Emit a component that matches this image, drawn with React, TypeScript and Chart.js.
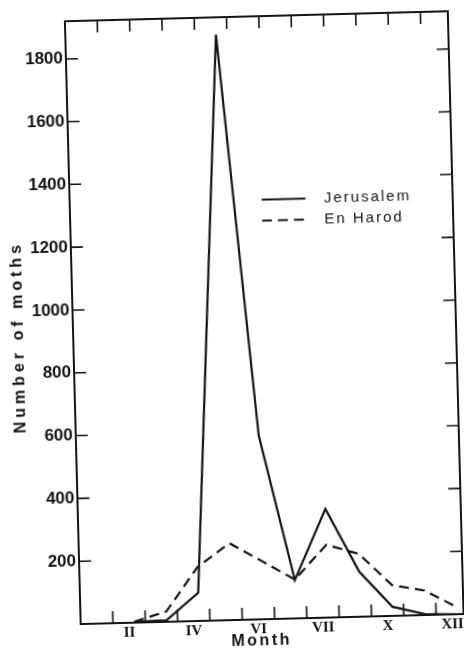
import React, { useEffect, useRef } from 'react';
import { Chart, registerables } from 'chart.js';

Chart.register(...registerables);

// ---- data ----
const MONTHS = [1, 2, 3, 4, 5, 6, 7, 8, 9, 10, 11, 12];
const MONTH_LABELS = ['', 'II', '', 'IV', '', 'VI', '', 'VII', '', 'X', '', 'XII'];
const JERUSALEM = [null, 2, 5, 90, 1865, 585, 122, 346, 143, 29, 3, 0];
const EN_HAROD = [null, 3, 33, 172, 245, 185, 124, 232, 200, 98, 78, 22];
const Y_TICKS = [200, 400, 600, 800, 1000, 1200, 1400, 1600, 1800];
const SERIES_NAMES = ['Jerusalem', 'En Harod'];
const X_TITLE = 'Month';
const Y_TITLE = 'Number of moths';

// ---- styling / scale set-up ----
const INK = '#141414';
const Y_MAX = 1920;
const X_MIN = 0.34;
const X_MAX = 12.19;
const LABEL_SHIFT = -0.16; // month label sits in the middle of its interval
const BOUNDARY_SHIFT = 0.34; // month boundaries (tick marks)
const DASH = [10, 6];
const TICK_LEN = 12;

function makeLineSymbol(dash: number[]) {
  const c = document.createElement('canvas');
  c.width = 55;
  c.height = 6;
  const g = c.getContext('2d') as CanvasRenderingContext2D;
  g.strokeStyle = INK;
  g.lineWidth = 2;
  g.setLineDash(dash);
  g.beginPath();
  g.moveTo(0, 3);
  g.lineTo(44, 3);
  g.stroke();
  return c;
}

const framePlugin = {
  id: 'frameAndTitles',
  afterLayout(chart: any) {
    const lg = chart.legend;
    if (!lg) return;
    const a = chart.chartArea;
    lg.left = a.left + 185.7;
    lg.top = a.top + 170;
    lg.right = a.right;
    lg.bottom = a.bottom;
    if (!lg.__spaced) {
      const orig = lg.draw;
      lg.draw = function (...args: any[]) {
        const c = this.ctx;
        const prev = c.letterSpacing;
        c.save();
        c.letterSpacing = '2px';
        orig.apply(this, args);
        c.restore();
        c.letterSpacing = prev || '0px';
      };
      lg.__spaced = true;
    }
  },
  afterDraw(chart: any) {
    const { ctx, chartArea: a } = chart;
    const xs = chart.scales.x;
    const ys = chart.scales.y;
    ctx.save();
    ctx.strokeStyle = INK;
    ctx.lineWidth = 2;
    ctx.strokeRect(a.left, a.top, a.right - a.left, a.bottom - a.top);
    ctx.lineWidth = 1.6;
    ctx.beginPath();
    MONTHS.slice(0, 11).forEach((m) => {
      const px = xs.getPixelForValue(m + BOUNDARY_SHIFT);
      ctx.moveTo(px, a.bottom);
      ctx.lineTo(px, a.bottom - TICK_LEN);
      ctx.moveTo(px, a.top);
      ctx.lineTo(px, a.top + TICK_LEN);
    });
    Y_TICKS.forEach((v) => {
      const py = ys.getPixelForValue(v);
      ctx.moveTo(a.left, py);
      ctx.lineTo(a.left + TICK_LEN, py);
      ctx.moveTo(a.right, py);
      ctx.lineTo(a.right - TICK_LEN, py);
    });
    ctx.stroke();

    ctx.fillStyle = INK;
    ctx.textAlign = 'center';
    ctx.textBaseline = 'middle';
    ctx.font = "bold 16px 'Liberation Sans'";
    ctx.letterSpacing = '2.5px';
    ctx.fillText(X_TITLE, (a.left + a.right) / 2 - 11, a.bottom + 22);

    ctx.letterSpacing = '4px';
    ctx.translate(19, (a.top + a.bottom) / 2 + 13);
    ctx.rotate(-Math.PI / 2);
    ctx.fillText(Y_TITLE, 0, 0);
    ctx.restore();
    ctx.letterSpacing = '0px';
  },
};

export default function App() {
  const ref = useRef<HTMLCanvasElement>(null);

  useEffect(() => {
    if (!ref.current) return;
    const chart = new Chart(ref.current, {
      type: 'line',
      data: {
        datasets: [
          {
            label: SERIES_NAMES[0],
            data: MONTHS.map((m, i) => ({ x: m, y: JERUSALEM[i] })),
            borderColor: INK,
            backgroundColor: INK,
            borderWidth: 2.2,
            pointRadius: 0,
            pointStyle: makeLineSymbol([]),
            tension: 0,
          },
          {
            label: SERIES_NAMES[1],
            data: MONTHS.map((m, i) => ({ x: m, y: EN_HAROD[i] })),
            borderColor: INK,
            backgroundColor: INK,
            borderWidth: 2.2,
            borderDash: DASH,
            pointRadius: 0,
            pointStyle: makeLineSymbol(DASH),
            tension: 0,
          },
        ],
      },
      options: {
        responsive: false,
        animation: false,
        devicePixelRatio: 1,
        layout: { padding: { top: 17, right: 8, left: 0, bottom: 0 } },
        plugins: {
          tooltip: { enabled: false },
          legend: {
            position: 'chartArea',
            align: 'start',
            labels: {
              usePointStyle: true,
              pointStyleWidth: 55,
              boxHeight: 6,
              padding: 6,
              color: INK,
              font: { family: 'Liberation Sans', size: 15 },
            },
          },
        },
        scales: {
          x: {
            type: 'linear',
            min: X_MIN,
            max: X_MAX,
            grid: { display: false, drawTicks: false, tickLength: 0 },
            border: { display: false },
            afterBuildTicks: (scale: any) => {
              scale.ticks = MONTHS.map((m) => ({ value: m + LABEL_SHIFT }));
            },
            afterFit: (scale: any) => {
              scale.height = 36;
            },
            ticks: {
              autoSkip: false,
              maxRotation: 0,
              padding: 1,
              color: INK,
              font: { family: 'Liberation Serif', size: 15, weight: 'bold' },
              callback: (_v: any, i: number) => MONTH_LABELS[i],
            },
          },
          y: {
            min: 0,
            max: Y_MAX,
            grid: { display: false, drawTicks: false, tickLength: 0 },
            border: { display: false },
            afterBuildTicks: (scale: any) => {
              scale.ticks = Y_TICKS.map((v) => ({ value: v }));
            },
            afterFit: (scale: any) => {
              scale.width = 73;
            },
            ticks: {
              padding: 3,
              color: INK,
              font: { family: 'Liberation Sans', size: 17, weight: 'bold' },
              callback: (v: any) => String(v),
            },
          },
        },
      },
      plugins: [framePlugin],
    } as any);
    return () => chart.destroy();
  }, []);

  return (
    <div
      style={{
        position: 'absolute',
        left: 0,
        top: 0,
        width: 464,
        height: 656,
        overflow: 'hidden',
        background: '#fff',
      }}
    >
      <canvas
        ref={ref}
        width={464}
        height={656}
        style={{ display: 'block', transform: 'rotate(-1.5deg)', transformOrigin: '50% 50%' }}
      />
    </div>
  );
}
